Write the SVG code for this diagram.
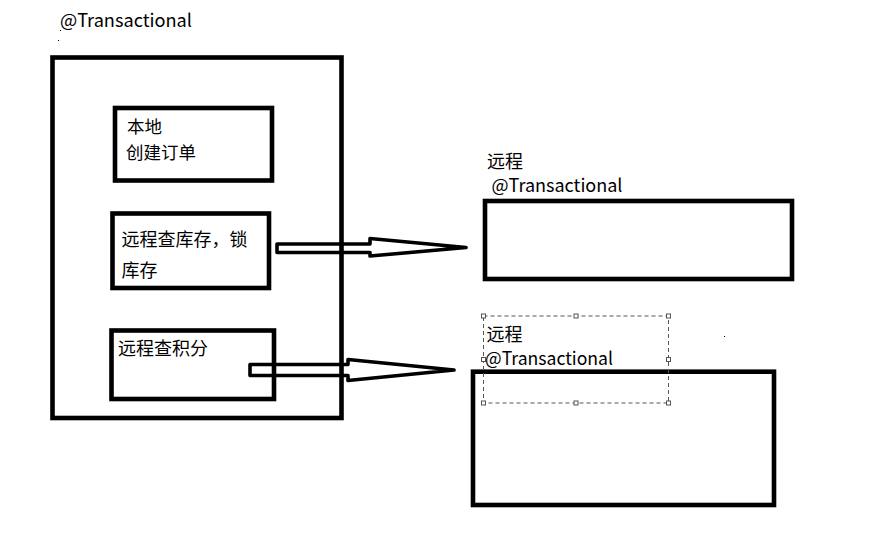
<svg xmlns="http://www.w3.org/2000/svg" width="885" height="534" viewBox="0 0 885 534">
<style>
.box{fill:none;stroke:#000;stroke-width:4.6}
.arrow{fill:none;stroke:#000;stroke-width:3.6;stroke-linejoin:round}
.t{font-family:"Microsoft YaHei","Noto Sans CJK SC","Liberation Sans",sans-serif;font-size:18px;fill:#000}
.s{font-size:17.5px}
.sel{fill:none;stroke:#555;stroke-width:1;stroke-dasharray:4 3}
.h{fill:#fff;stroke:#555;stroke-width:1}
</style>
<rect width="885" height="534" fill="#fff"/>
<g id="outer">
<text class="t" x="60" y="27" textLength="132" lengthAdjust="spacingAndGlyphs">@Transactional</text>
<rect x="60" y="30" width="1" height="1" fill="#000"/>
<rect x="58" y="40" width="1" height="1" fill="#000"/>
<rect class="box" x="52.5" y="57.5" width="289" height="360.5"/>
</g>
<g id="local">
<rect class="box" x="115" y="108" width="157" height="72.5"/>
<text class="t s" x="127" y="133">本地</text>
<text class="t s" x="126" y="158.5">创建订单</text>
</g>
<g id="stock">
<rect class="box" x="112.5" y="213.5" width="156.5" height="74.5"/>
<text class="t" x="121.5" y="246">远程查库存，锁</text>
<text class="t" x="121.5" y="277">库存</text>
</g>
<g id="points">
<rect class="box" x="111.5" y="330.5" width="162.5" height="68.5"/>
<text class="t" x="118" y="355">远程查积分</text>
</g>
<g id="remote1">
<text class="t" x="487" y="168">远程</text>
<text class="t" x="491.5" y="191.5" textLength="131" lengthAdjust="spacingAndGlyphs">@Transactional</text>
<rect class="box" x="485" y="201" width="307" height="78"/>
</g>
<g id="remote2">
<rect class="box" x="473" y="371.7" width="301" height="133.3"/>
<rect class="sel" x="483.5" y="316" width="185" height="87"/>
<rect class="h" x="481.5" y="314" width="4" height="4"/>
<rect class="h" x="574" y="314" width="4" height="4"/>
<rect class="h" x="666.5" y="314" width="4" height="4"/>
<rect class="h" x="481.5" y="357.5" width="4" height="4"/>
<rect class="h" x="666.5" y="357.5" width="4" height="4"/>
<rect class="h" x="481.5" y="401" width="4" height="4"/>
<rect class="h" x="574" y="401" width="4" height="4"/>
<rect class="h" x="666.5" y="401" width="4" height="4"/>
<text class="t" x="486.5" y="341">远程</text>
<text class="t" x="485" y="365" textLength="128" lengthAdjust="spacingAndGlyphs">@Transactional</text>
<rect x="724" y="336" width="1" height="1" fill="#000"/>
</g>
<g id="connectors">
<path class="arrow" d="M277,244 L370,244 L370,238.5 L466,247.5 L370,256 L370,252.5 L277,252.5 Z"/>
<path class="arrow" d="M250,364.5 L348,364.5 L348,359.5 L454,370 L348,380.5 L348,375.5 L250,375.5 Z"/>
</g>
</svg>
